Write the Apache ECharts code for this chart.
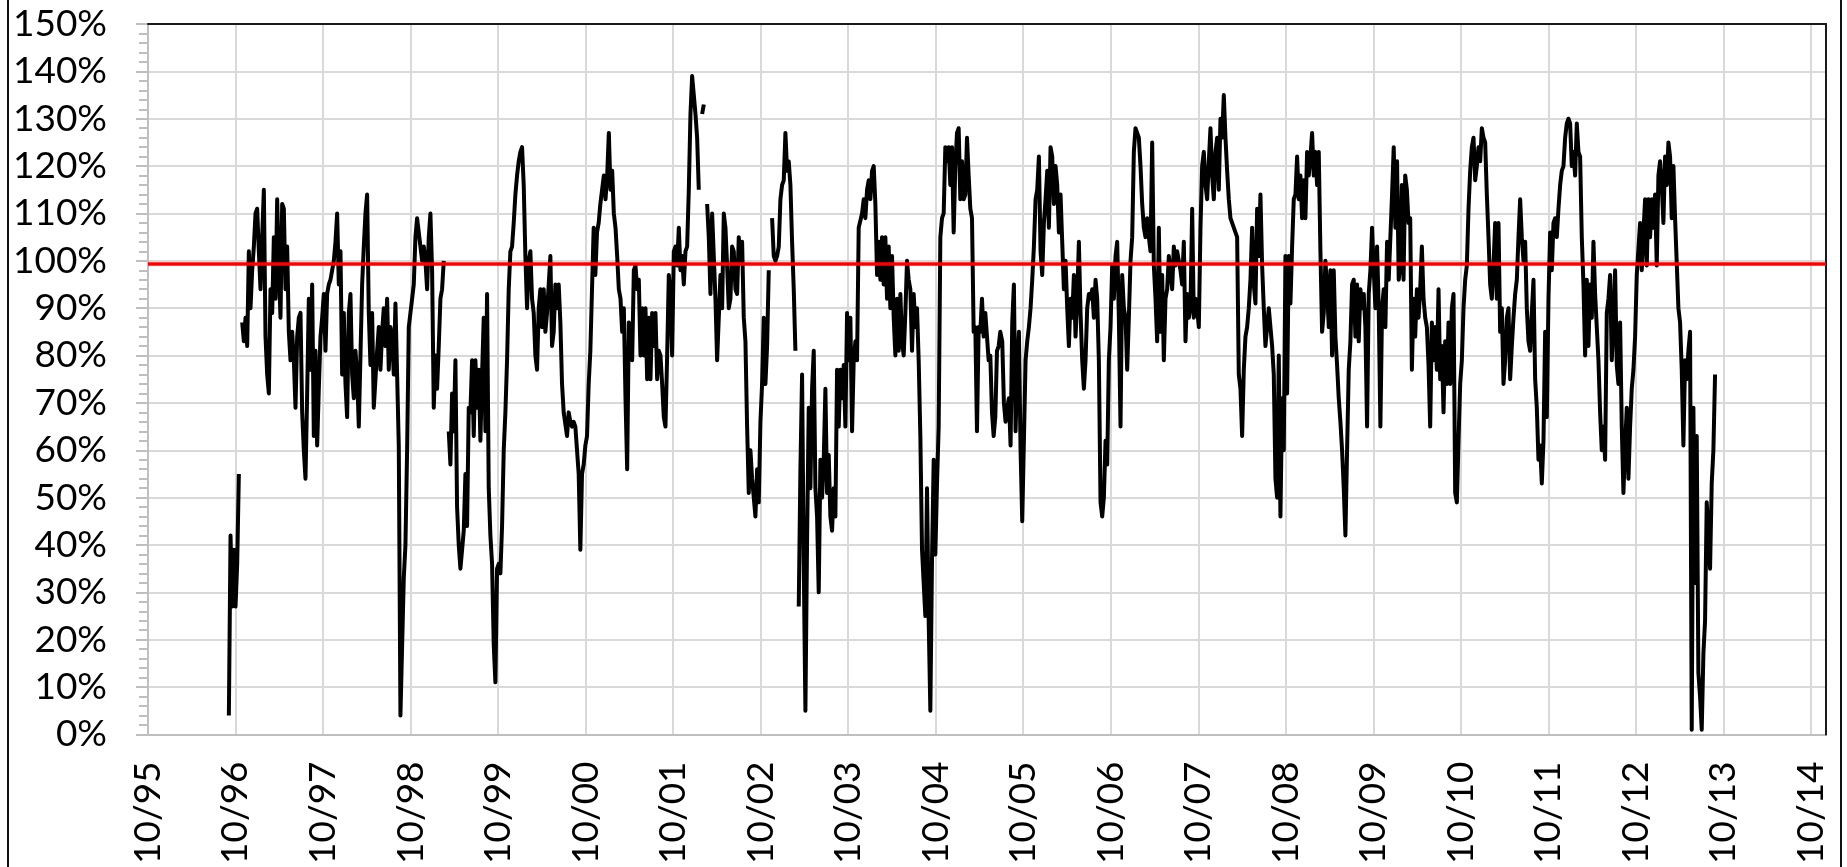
<!DOCTYPE html>
<html>
<head>
<meta charset="utf-8">
<script src="https://cdn.jsdelivr.net/npm/echarts@6/dist/echarts.min.js"></script>
<style>
html,body{margin:0;padding:0;background:#fff;}
#chart{width:1847px;height:867px;}
</style>
</head>
<body>
<div id="chart"></div>
<script>
// x positions are in years after October 1995; values are in percent
const xTickLabels = ['10/95','10/96','10/97','10/98','10/99','10/00','10/01','10/02','10/03','10/04',
  '10/05','10/06','10/07','10/08','10/09','10/10','10/11','10/12','10/13','10/14'];
const yTickValues = [0,10,20,30,40,50,60,70,80,90,100,110,120,130,140,150];
const referenceLevel = 99.3;
const weekStep = 0.0190331;            // one sample ≈ one week, in years
const segmentStarts = [0.9239, 5.1892, 9.7602, 14.3262];

const values1996_2000 = [
  4,42,27,39,27,36,55,null,87,83,
  88,82,102,90,98,103,110,111,102,94,
  105,115,84,76,72,94,89,105,92,113,
  98,88,112,111,94,103,85,79,85,79,
  69,84,88,89,68,60,54,72,92,77,
  95,63,81,61,73,84,88,93,81,93,
  95,96,98,100,104,110,95,102,76,89,
  74,67,89,93,76,71,81,76,65,80,
  95,103,110,114,89,78,89,69,69,81,
  86,77,85,90,82,92,77,86,84,76,
  91,76,61,4,4,33,40,60,86,86,
  92,95,105,109,109,103,100,103,100,94,
  105,110,98,69,80,73,82,92,94,100,
  null,null,64,57,72,64,79,48,40,35,
  39,43,55,44,69,68,79,63,79,69,
  77,62,76,88,64,93,52,42,36,19,
  11,35,36,34,44,60,68,79,94,102,
  103,108,114,118,121,123,124,116,101,90,
  100,102,92,89,80,77,90,94,86,94,
  85,89,95,101,82,85,95,90,95,87,
  74,68,68,63,68,66,65,66,65,65,
  55,39,55,57,61,63,74,81,94,107,
  97,106,108,112
];
const values2000_2005 = [
  112,118,113,118,127,115,119,110,107,101,
  94,92,85,90,71,56,87,86,79,98,
  99,94,96,80,90,80,90,75,88,75,
  89,82,89,75,81,80,74,67,65,80,
  97,93,80,102,103,99,107,98,101,95,
  102,103,115,131,139,135,131,126,115,null,
  131,133,null,112,105,93,110,101,92,79,
  88,97,90,110,107,99,90,92,103,102,
  94,93,105,100,104,88,83,65,51,60,
  54,50,46,56,49,66,74,88,74,82,
  98,null,109,101,100,101,103,113,116,117,
  127,119,121,116,104,94,81,null,27,56,
  76,36,5,41,69,52,73,81,52,46,
  30,58,50,58,73,51,59,46,43,52,
  46,77,65,77,71,78,65,89,79,88,
  64,79,83,79,107,107,110,113,109,115,
  117,113,119,120,112,97,104,96,105,95,
  105,92,103,90,101,88,80,92,81,93,
  83,80,89,100,96,94,81,93,86,90,
  79,63,39,32,25,52,24,5,37,58,
  38,53,65,105,109,110,124,121,124,116,
  124,106,120,127,128,113,121,113,114,126,
  118,111,109,85,86,64,86,85,92,84,
  89,84,79,80,68,63,67,81,82,85
];
const values2005_2010 = [
  83,70,66,69,71,61,87,95,64,77,
  85,60,45,62,79,83,86,90,96,103,
  113,115,122,102,97,108,113,119,107,124,
  122,112,120,116,106,114,104,94,100,90,
  82,92,88,97,84,92,104,89,79,73,
  79,90,93,92,94,88,96,92,79,49,
  46,50,62,57,79,86,99,92,101,104,
  88,65,97,90,88,77,88,100,105,123,
  128,128,126,120,112,107,105,109,105,102,
  125,99,92,83,107,85,97,79,92,94,
  101,101,94,103,99,102,100,98,95,104,
  83,93,88,90,111,88,92,90,86,107,
  120,123,116,113,121,128,118,113,123,126,
  115,130,126,135,126,119,113,109,108,107,
  106,105,76,73,63,77,84,86,90,96,
  107,95,91,111,101,114,99,90,82,86,
  90,90,82,76,54,50,80,46,71,60,
  101,72,101,91,103,113,114,122,113,118,
  109,117,109,123,118,122,127,118,123,116,
  123,102,85,89,100,94,86,98,80,98,
  84,78,71,66,60,52,42,60,77,83,
  95,96,84,95,83,94,90,93,86,65,
  93,98,107,98,90,103,90,65,90,94,
  86,104,96,96,114,124,107,121,96,99
];
const values2010_2013 = [
  116,96,118,115,108,109,77,92,84,94,
  88,94,103,92,88,86,78,65,87,79,
  86,77,94,75,82,68,83,74,87,74,
  90,93,51,49,62,74,79,90,96,99,
  111,119,124,126,117,120,124,121,128,126,
  125,114,105,95,92,99,108,92,108,85,
  90,74,79,88,90,75,82,88,93,96,
  105,113,105,100,104,90,83,81,89,96,
  75,69,58,61,53,62,85,67,92,106,
  98,108,109,105,111,116,119,120,126,129,
  130,129,120,123,118,129,123,122,105,95,
  80,96,82,95,88,104,93,86,79,68,
  60,65,58,89,92,97,79,87,98,78,
  74,87,65,51,61,69,54,65,73,77,
  84,97,97,108,98,106,113,99,113,105,
  113,107,114,99,118,121,116,108,122,116,
  125,122,109,120,109,109,90,87,77,61,
  79,75,81,85,1,69,32,63,13,8,
  1,17,24,49,49,35,53,60,76
];

const segments = [values1996_2000, values2000_2005, values2005_2010, values2010_2013];
const seriesData = [];
segments.forEach((vals, s) => {
  vals.forEach((v, i) => {
    seriesData.push([segmentStarts[s] + i * weekStep, v === null ? '-' : v]);
  });
});

const X_MAX = 19.172;
const FONT = 'Lato, "Open Sans", sans-serif';

const chart = echarts.init(document.getElementById('chart'), null, {renderer: 'canvas'});
chart.setOption({
  animation: false,
  backgroundColor: '#ffffff',
  grid: {left: 148, right: 21, top: 24, bottom: 131, containLabel: false},
  xAxis: [{
    type: 'value', min: 0, max: X_MAX, interval: 1,
    axisLine: {show: true, lineStyle: {color: '#bfbfbf', width: 2}},
    axisTick: {show: false},
    axisLabel: {
      rotate: 90, margin: 27, color: '#000', fontSize: 37, fontFamily: FONT,
      showMaxLabel: false,
      formatter: v => {
        const r = Math.round(v);
        return Math.abs(v - r) < 1e-6 && xTickLabels[r] !== undefined ? xTickLabels[r] : '';
      }
    },
    splitLine: {show: true, lineStyle: {color: '#d9d9d9', width: 2}}
  }, {
    type: 'value', position: 'top', min: 0, max: X_MAX, z: 3,
    axisLine: {show: true, onZero: false, lineStyle: {color: '#1a1a1a', width: 2}},
    axisTick: {show: false}, axisLabel: {show: false}, splitLine: {show: false}
  }],
  yAxis: [{
    type: 'value', min: yTickValues[0], max: yTickValues[yTickValues.length - 1], interval: 10,
    axisLine: {show: true, lineStyle: {color: '#bfbfbf', width: 2}},
    axisTick: {show: true, length: 12, lineStyle: {color: '#bfbfbf', width: 2}},
    minorTick: {show: true, splitNumber: 5, length: 9, lineStyle: {color: '#bfbfbf', width: 2}},
    axisLabel: {margin: 41, color: '#000', fontSize: 37, fontFamily: FONT, formatter: '{value}%'},
    splitLine: {show: true, lineStyle: {color: '#d9d9d9', width: 2}}
  }, {
    type: 'value', position: 'right', min: 0, max: 150, z: 3,
    axisLine: {show: true, onZero: false, lineStyle: {color: '#1a1a1a', width: 2}},
    axisTick: {show: false}, axisLabel: {show: false}, splitLine: {show: false}
  }],
  graphic: [
    {type: 'line', shape: {x1: 8, y1: 0, x2: 8, y2: 867}, style: {stroke: '#111', lineWidth: 2}},
    {type: 'line', shape: {x1: 1841, y1: 0, x2: 1841, y2: 867}, style: {stroke: '#111', lineWidth: 2}}
  ],
  series: [{
    type: 'line',
    xAxisIndex: 0, yAxisIndex: 0,
    data: seriesData,
    showSymbol: false,
    connectNulls: false,
    lineStyle: {color: '#000', width: 4, join: 'round'},
    z: 2,
    markLine: {
      silent: true, symbol: 'none', animation: false,
      label: {show: false},
      lineStyle: {color: '#ff0000', width: 3.5, type: 'solid'},
      data: [{yAxis: referenceLevel}]
    }
  }]
});
</script>
</body>
</html>
